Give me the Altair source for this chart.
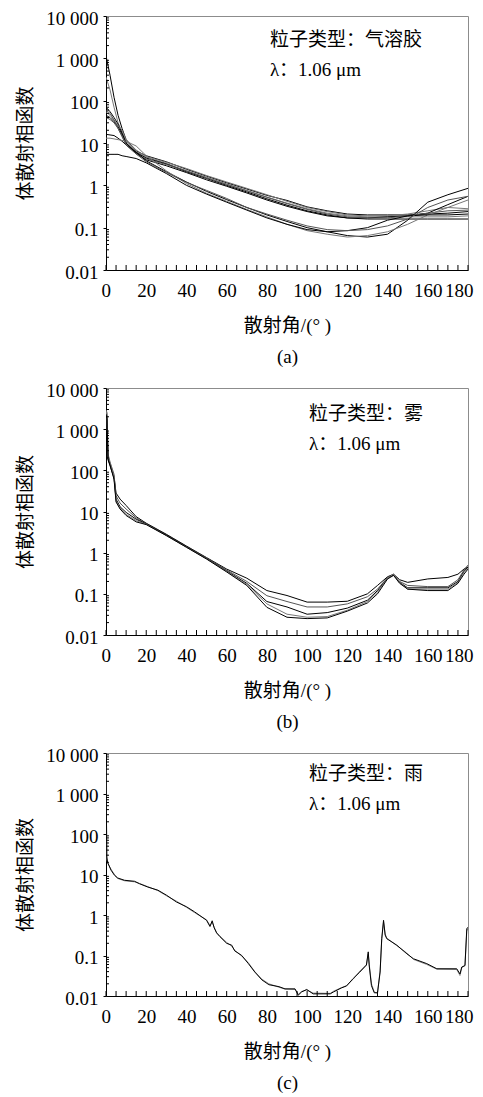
import altair as alt
import pandas as pd

FONT_NUM = "Liberation Serif"
FONT_MIX = "Liberation Serif, Noto Sans CJK SC"

# ---------------- axis ticks ----------------
X_TICK_VALUES = list(range(0, 181, 5))
X_LABEL_VALUES = [0, 20, 40, 60, 80, 100, 120, 140, 160, 180]
Y_MAJOR = [0.01, 0.1, 1, 10, 100, 1000, 10000]
Y_MAJOR_LABELS = ["0.01", "0.1", "1", "10", "100", "1 000", "10 000"]
Y_MINOR_MULT = [2, 3, 4, 5, 6, 7, 8, 9]
Y_TITLE = "体散射相函数"
X_TITLE = "散射角/(° )"

# ---------------- (a) aerosol ----------------
AER_ANGLES = [0, 2, 4, 6, 8, 10, 15, 20, 30, 40, 50, 60, 70, 80, 90, 100, 110, 120, 130, 140, 150, 160, 170, 180]
AER_U1 = [1150, 400, 120, 45, 22, 12, 6.5, 5.0, 3.6, 2.4, 1.65, 1.15, 0.82, 0.58, 0.44, 0.31, 0.25, 0.21, 0.2, 0.2, 0.2, 0.21, 0.22, 0.24]
AER_U2 = [360, 180, 70, 30, 18, 11, 6.2, 4.6, 3.3, 2.2, 1.55, 1.08, 0.76, 0.53, 0.38, 0.28, 0.22, 0.19, 0.18, 0.18, 0.18, 0.18, 0.18, 0.19]
AER_U3 = [70, 55, 40, 28, 17, 10, 6.0, 4.4, 3.2, 2.1, 1.45, 1.0, 0.7, 0.48, 0.34, 0.25, 0.2, 0.17, 0.16, 0.16, 0.16, 0.16, 0.16, 0.16]
AER_U4 = [55, 45, 35, 26, 20, 12, 6.8, 4.8, 3.5, 2.5, 1.7, 1.2, 0.85, 0.6, 0.42, 0.3, 0.24, 0.2, 0.19, 0.19, 0.21, 0.25, 0.3, 0.28]
AER_U5 = [45, 40, 32, 24, 16, 10, 5.8, 4.0, 2.9, 2.0, 1.35, 0.95, 0.66, 0.45, 0.32, 0.24, 0.19, 0.17, 0.17, 0.18, 0.19, 0.22, 0.35, 0.55]
AER_U6 = [40, 36, 30, 22, 15, 9, 5.5, 4.2, 3.1, 2.2, 1.5, 1.05, 0.74, 0.52, 0.37, 0.27, 0.21, 0.18, 0.17, 0.17, 0.19, 0.22, 0.25, 0.26]
AER_L1 = [16, 15.5, 15, 13, 11, 9, 6.0, 3.8, 2.1, 1.2, 0.72, 0.46, 0.3, 0.2, 0.14, 0.1, 0.08, 0.065, 0.06, 0.07, 0.15, 0.4, 0.6, 0.85]
AER_L2 = [13, 13, 12.5, 12, 11.5, 11, 8.5, 5, 2.2, 1.1, 0.65, 0.42, 0.27, 0.18, 0.12, 0.085, 0.07, 0.06, 0.065, 0.08, 0.12, 0.2, 0.3, 0.45]
AER_L3 = [5.4, 5.4, 5.4, 5.4, 5.0, 4.8, 4.3, 3.4, 1.9, 1.0, 0.62, 0.4, 0.26, 0.17, 0.12, 0.09, 0.08, 0.085, 0.1, 0.15, 0.19, 0.2, 0.2, 0.21]
AER_L4 = [60, 50, 35, 22, 14, 9, 5.5, 3.6, 2.0, 1.17, 0.76, 0.49, 0.3, 0.21, 0.15, 0.11, 0.09, 0.085, 0.09, 0.11, 0.16, 0.3, 0.45, 0.55]
AER_NOTES = ["粒子类型：气溶胶", "λ：1.06 μm"]
AER_NOTE_X = [81.5, 81.5]
AER_NOTE_Y = [2700, 520]

# ---------------- (b) fog ----------------
FOG_ANGLES = [0, 0.5, 1, 2, 4, 5, 7, 10, 15, 20, 30, 40, 50, 60, 70, 80, 90, 100, 110, 120, 130, 135, 140, 143, 146, 150, 160, 170, 175, 178, 180]
FOG_1 = [2500, 2000, 200, 140, 70, 28, 20, 14, 7.5, 5.2, 2.8, 1.45, 0.76, 0.4, 0.24, 0.12, 0.091, 0.063, 0.063, 0.066, 0.1, 0.16, 0.26, 0.3, 0.22, 0.19, 0.23, 0.25, 0.3, 0.4, 0.45]
FOG_2 = [3000, 2500, 250, 160, 80, 24, 16, 11.5, 7, 5, 2.7, 1.4, 0.74, 0.38, 0.2, 0.09, 0.065, 0.048, 0.048, 0.057, 0.085, 0.13, 0.25, 0.29, 0.2, 0.16, 0.15, 0.15, 0.22, 0.38, 0.5]
FOG_3 = [2000, 1600, 180, 130, 65, 20, 13, 9.5, 6.5, 5, 2.7, 1.4, 0.72, 0.36, 0.18, 0.065, 0.048, 0.032, 0.035, 0.045, 0.07, 0.12, 0.24, 0.29, 0.19, 0.14, 0.14, 0.14, 0.2, 0.35, 0.45]
FOG_4 = [2800, 2200, 220, 150, 70, 18, 12, 8.5, 6, 4.9, 2.6, 1.36, 0.71, 0.35, 0.17, 0.057, 0.032, 0.027, 0.028, 0.04, 0.065, 0.11, 0.24, 0.3, 0.19, 0.13, 0.13, 0.13, 0.19, 0.33, 0.42]
FOG_5 = [2300, 1800, 190, 135, 60, 17, 11.5, 8, 5.6, 4.8, 2.6, 1.35, 0.7, 0.34, 0.16, 0.047, 0.027, 0.025, 0.026, 0.038, 0.06, 0.1, 0.23, 0.28, 0.18, 0.13, 0.12, 0.12, 0.18, 0.3, 0.4]
FOG_NOTES = ["粒子类型：雾", "λ：1.06 μm"]
FOG_NOTE_X = [101, 101]
FOG_NOTE_Y = [2340, 437]

# ---------------- (c) rain ----------------
RAIN_ANGLES = [0, 0.4, 0.8, 2.5, 4.2, 5.8, 9.2, 14.2, 16.7, 20.8, 25.8, 30, 35, 40, 44, 50, 51.7, 52.8, 53.8, 55, 56.7, 60, 62.5, 64, 67.5, 70.8, 74, 77.5, 81, 86, 89, 94, 95.6, 97.3, 99.8, 103, 111.5, 113, 117, 119.6, 122.9, 126.2, 129.5, 130.4, 130.9, 132, 133.4, 135, 136.3, 137.1, 138, 138.8, 139.6, 144.6, 149.6, 152.9, 159.5, 164.5, 174.4, 176, 176.9, 178.5, 179.4, 180]
RAIN_1 = [5000, 27, 20, 12.8, 9.6, 8.2, 7.2, 6.8, 5.9, 4.9, 4.1, 3.1, 2.1, 1.6, 1.2, 0.74, 0.52, 0.72, 0.48, 0.36, 0.29, 0.2, 0.18, 0.13, 0.1, 0.063, 0.039, 0.025, 0.019, 0.017, 0.015, 0.015, 0.0105, 0.0126, 0.0145, 0.0113, 0.0113, 0.0125, 0.0158, 0.0177, 0.027, 0.039, 0.058, 0.123, 0.055, 0.018, 0.012, 0.012, 0.039, 0.26, 0.74, 0.32, 0.26, 0.18, 0.11, 0.083, 0.063, 0.047, 0.047, 0.035, 0.052, 0.056, 0.46, 0.5]
RAIN_2 = [4500, 25, 19, 13.5, 10, 8.0, 7.0, 6.6, 6.0, 5.0, 4.0, 3.0, 2.2, 1.55, 1.15, 0.76, 0.55, 0.66, 0.5, 0.37, 0.3, 0.21, 0.17, 0.135, 0.097, 0.066, 0.04, 0.026, 0.02, 0.0165, 0.0148, 0.0145, 0.011, 0.013, 0.014, 0.0118, 0.0116, 0.013, 0.016, 0.018, 0.026, 0.041, 0.06, 0.11, 0.06, 0.02, 0.0125, 0.0118, 0.042, 0.24, 0.68, 0.34, 0.27, 0.175, 0.115, 0.08, 0.06, 0.046, 0.045, 0.032, 0.05, 0.058, 0.4, 0.48]
RAIN_NOTES = ["粒子类型：雨", "λ：1.06 μm"]
RAIN_NOTE_X = [101, 101]
RAIN_NOTE_Y = [3000, 550]

PLOT_W = 362
TICK_IN_X = 5   # inward tick length on the angle axis (px)
TICK_IN_Y = 3   # inward minor tick length on the log axis (px)


def long_frame(angles, series):
    rows = []
    for name, vals in series:
        for a, v in zip(angles, vals):
            rows.append({"angle": a, "value": v, "series": name})
    return pd.DataFrame(rows)


y_minor = []
for d in Y_MAJOR[:-1]:
    for m in Y_MINOR_MULT:
        y_minor.append(round(d * m, 6))

MAJOR_TEST = "abs(log(datum.value)/LN10 - round(log(datum.value)/LN10)) < 1e-6"
y_label_expr = ""
for v, lab in zip(Y_MAJOR, Y_MAJOR_LABELS):
    y_label_expr += f"abs(datum.value - {v}) < {v * 1e-6} ? '{lab}' : "
y_label_expr += "''"


def panel(angles, series, colors, notes, note_x, note_y, letter, height):
    df = long_frame(angles, series)
    names = [n for n, _ in series]
    x_axis = alt.Axis(
        values=X_LABEL_VALUES, ticks=False, grid=False,
        labelOverlap=False, labelFlush=True, labelFlushOffset=5,
        domainColor="black", domainWidth=1,
        labelFont=FONT_NUM, labelFontSize=19, labelColor="black", labelPadding=11,
        title=[X_TITLE, letter], titleFont=FONT_MIX, titleFontSize=19, titleFontWeight="normal",
        titleColor="black", titlePadding=16, titleLineHeight=31,
    )
    y_axis = alt.Axis(
        values=Y_MAJOR, labelExpr=y_label_expr, tickSize=3, tickColor="black", grid=False,
        labelOverlap=False, labelFlush=False,
        domainColor="black", domainWidth=1,
        labelFont=FONT_NUM, labelFontSize=19, labelColor="black", labelPadding=5, labelOffset=2,
        title=Y_TITLE, titleFont=FONT_MIX, titleFontSize=19, titleFontWeight="normal",
        titleColor="black", titlePadding=10,
    )
    xs = alt.Scale(domain=[0, 180], nice=False, zero=False)
    ys = alt.Scale(type="log", domain=[0.01, 10000], nice=False)
    lines = alt.Chart(df).mark_line(strokeWidth=1, clip=True).encode(
        x=alt.X("angle:Q", scale=xs, axis=x_axis),
        y=alt.Y("value:Q", scale=ys, axis=y_axis),
        color=alt.Color("series:N", scale=alt.Scale(domain=names, range=colors), legend=None),
    )
    xt = alt.Chart(pd.DataFrame({"angle": X_TICK_VALUES})).mark_rule(color="black", strokeWidth=1).encode(
        x=alt.X("angle:Q"), y=alt.value(height - TICK_IN_X), y2=alt.value(height)
    )
    yt = alt.Chart(pd.DataFrame({"value": y_minor})).mark_rule(color="black", strokeWidth=1).encode(
        y=alt.Y("value:Q"), x=alt.value(0), x2=alt.value(TICK_IN_Y)
    )
    ndf = pd.DataFrame({"angle": note_x, "value": note_y, "t": notes})
    text = alt.Chart(ndf).mark_text(
        align="left", baseline="middle", font=FONT_MIX, fontSize=19, color="black"
    ).encode(x=alt.X("angle:Q"), y=alt.Y("value:Q"), text="t:N")
    return alt.layer(lines, xt, yt, text).properties(width=PLOT_W, height=height)


pa = panel(
    AER_ANGLES,
    [("U1", AER_U1), ("U2", AER_U2), ("U3", AER_U3), ("U4", AER_U4), ("U5", AER_U5),
     ("U6", AER_U6), ("L1", AER_L1), ("L2", AER_L2), ("L3", AER_L3), ("L4", AER_L4)],
    ["black", "#777777", "black", "#777777", "black", "#555555", "black", "#777777", "black", "#555555"],
    AER_NOTES, AER_NOTE_X, AER_NOTE_Y, "(a)", 254,
)
pb = panel(
    FOG_ANGLES,
    [("F1", FOG_1), ("F2", FOG_2), ("F3", FOG_3), ("F4", FOG_4), ("F5", FOG_5)],
    ["black", "#555555", "black", "#777777", "black"],
    FOG_NOTES, FOG_NOTE_X, FOG_NOTE_Y, "(b)", 247,
)
pc = panel(
    RAIN_ANGLES,
    [("R2", RAIN_2), ("R1", RAIN_1)],
    ["#888888", "black"],
    RAIN_NOTES, RAIN_NOTE_X, RAIN_NOTE_Y, "(c)", 243,
)

chart = (
    alt.vconcat(pa, pb, pc, spacing=13)
    .resolve_scale(color="independent")
    .properties(padding={"left": 8, "top": 0, "right": 0, "bottom": 0}, background="white")
    .configure_view(stroke="#8c8c8c", strokeWidth=1)
)

chart.save("out.html", embed_options={"renderer": "svg", "actions": False})
